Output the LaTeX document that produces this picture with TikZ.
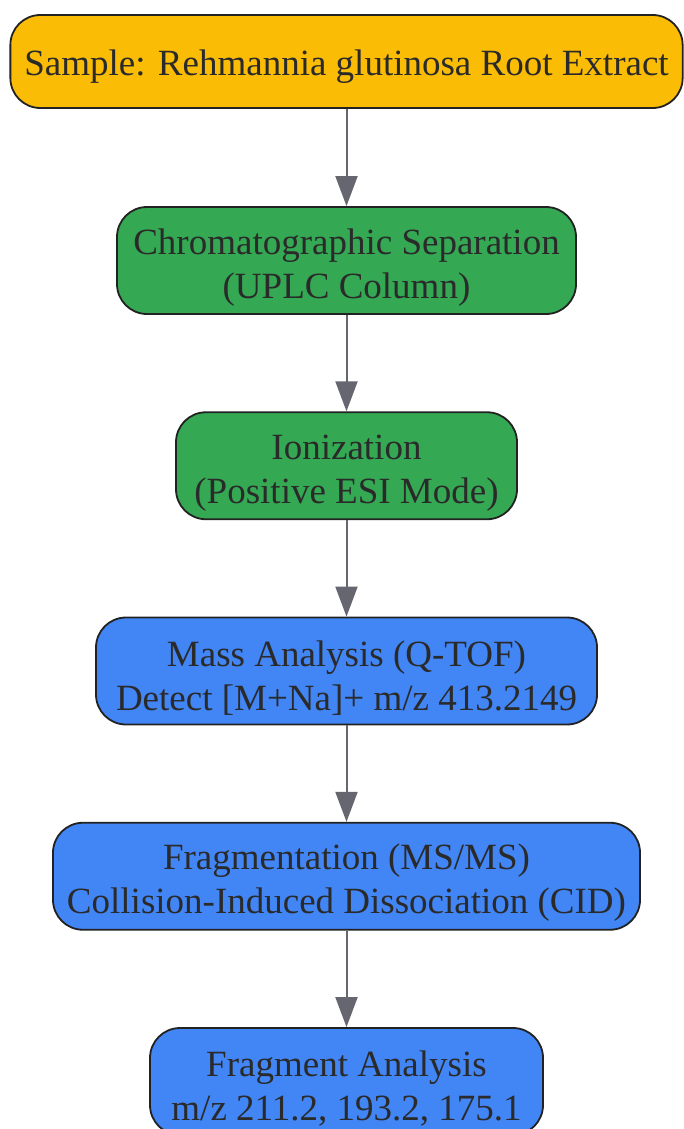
\documentclass[tikz,border=0pt]{standalone}
\usepackage{fontspec}
\setmainfont{Liberation Serif}
\usetikzlibrary{positioning,arrows.meta}

\definecolor{giallo}{HTML}{FBBC05}
\definecolor{verde}{HTML}{34A853}
\definecolor{blu}{HTML}{4285F4}
\definecolor{bordo}{HTML}{222222}
\definecolor{freccia}{HTML}{666670}
\definecolor{testo}{HTML}{2A2A2A}

% spinge il testo un poco in basso
\newcommand{\alto}{\rule{0pt}{39pt}}

\tikzset{
  passo/.style={draw=bordo, line width=1.8pt, rounded corners=30pt, align=center,
    inner xsep=14pt, minimum height=107pt, text=testo,
    font=\fontsize{37}{44}\selectfont},
  freccia/.style={-{Triangle[length=30pt,width=22pt]}, draw=freccia, line width=2pt}
}

\begin{document}
\begin{tikzpicture}[x=1pt,y=1pt,node distance=96.45pt]
\useasboundingbox (0,0) rectangle (683,-1129);

%campione
\node[passo, fill=giallo, minimum height=93pt, minimum width=671pt] (campione) at (346.5,-61.5)
  {\rule{0pt}{36pt}Sample: Rehmannia glutinosa Root Extract};

%separazione e ionizzazione
\node[passo, fill=verde, minimum width=459pt, below=97.2pt of campione] (separazione)
  {\alto Chromatographic Separation\\(UPLC Column)};
\node[passo, fill=verde, minimum width=341pt, below=of separazione] (ionizzazione)
  {\alto Ionization\\(Positive ESI Mode)};

%spettrometria
\node[passo, fill=blu, minimum width=501pt, below=of ionizzazione] (massa)
  {\alto Mass Analysis (Q-TOF)\\Detect [M+Na]+ m/z 413.2149};
\node[passo, fill=blu, minimum width=586pt, below=of massa] (frammentazione)
  {\alto Fragmentation (MS/MS)\\Collision-Induced Dissociation (CID)};
\node[passo, fill=blu, minimum width=393pt, below=of frammentazione] (frammenti)
  {\alto Fragment Analysis\\m/z 211.2, 193.2, 175.1};

\draw[freccia] (campione) -- (separazione);
\draw[freccia] (separazione) -- (ionizzazione);
\draw[freccia] (ionizzazione) -- (massa);
\draw[freccia] (massa) -- (frammentazione);
\draw[freccia] (frammentazione) -- (frammenti);

\end{tikzpicture}
\end{document}
